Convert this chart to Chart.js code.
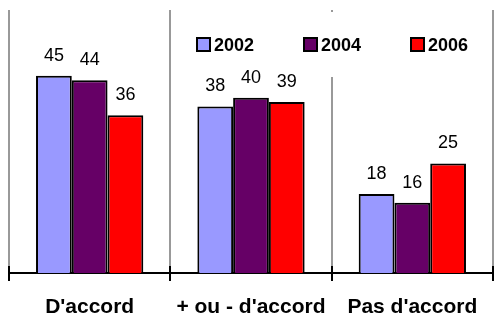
<!DOCTYPE html>
<html lang="fr">
  <head>
    <meta charset="UTF-8" />
    <title>Chart</title>
    <style>
      body { margin: 0; background: #fff; }
    </style>
  </head>
  <body>
    <canvas id="myChart" width="494" height="315"></canvas>

    <script src="https://cdn.jsdelivr.net/npm/chart.js"></script>
    <script>
      const categories = ["D'accord", "+ ou - d'accord", "Pas d'accord"];
      const years = ["2002", "2004", "2006"];
      const values2002 = [45, 38, 18];
      const values2004 = [44, 40, 16];
      const values2006 = [36, 39, 25];
      const colors = ["#9999FF", "#660066", "#FF0000"];

      const fontFamily = "'Liberation Sans', Arial, sans-serif";

      // legend sits over the top of the plot, value labels above bars
      const overlay = {
        id: "overlay",
        afterDatasetsDraw(chart) {
          const ctx = chart.ctx;
          const area = chart.chartArea;
          ctx.save();

          ctx.fillStyle = "#fff";
          ctx.fillRect(area.left + 172, area.top + 2, 306, 65);

          // tick marks poke a little above the axis too
          const n = chart.data.labels.length;
          ctx.strokeStyle = "#000";
          ctx.lineWidth = 2;
          for (let i = 0; i <= n; i++) {
            const x = Math.round(area.left + (i * area.width) / n);
            ctx.beginPath();
            ctx.moveTo(x, area.bottom - 7);
            ctx.lineTo(x, area.bottom);
            ctx.stroke();
          }

          ctx.font = "bold 18px " + fontFamily;
          ctx.textBaseline = "alphabetic";
          ctx.textAlign = "left";
          chart.data.datasets.forEach(function (ds, i) {
            const x = area.left + 188 + i * 107;
            const y = area.top + 28;
            ctx.fillStyle = ds.backgroundColor;
            ctx.fillRect(x, y, 13, 13);
            ctx.strokeStyle = "#000";
            ctx.lineWidth = 2;
            ctx.strokeRect(x, y, 13, 13);
            ctx.fillStyle = "#000";
            ctx.fillText(ds.label, x + 17, y + 13);
          });

          ctx.font = "18px " + fontFamily;
          ctx.textAlign = "center";
          chart.data.datasets.forEach(function (ds, i) {
            const meta = chart.getDatasetMeta(i);
            meta.data.forEach(function (bar, j) {
              ctx.fillText(ds.data[j], bar.x, bar.y - 15);
            });
          });
          ctx.restore();
        },
      };

      const ctx = document.getElementById("myChart");

      const myChart = new Chart(ctx, {
        type: "bar",
        data: {
          labels: categories,
          datasets: [
            { label: years[0], data: values2002, backgroundColor: colors[0] },
            { label: years[1], data: values2004, backgroundColor: colors[1] },
            { label: years[2], data: values2006, backgroundColor: colors[2] },
          ],
        },
        options: {
          responsive: false,
          animation: false,
          layout: { padding: { left: 9, top: 10, right: 1, bottom: 0 } },
          datasets: {
            bar: {
              borderColor: "#000",
              borderWidth: 2,
              categoryPercentage: 0.665,
              barPercentage: 1,
            },
          },
          plugins: {
            legend: { display: false },
            tooltip: { enabled: false },
          },
          scales: {
            x: {
              afterFit(scale) {
                scale.height = 42;
              },
              grid: {
                offset: true,
                color: "#999",
                lineWidth: 2,
                tickColor: "#000",
                tickLength: 8,
              },
              border: { color: "#000", width: 2 },
              ticks: {
                color: "#000",
                padding: 14,
                font: { family: fontFamily, size: 21, weight: "bold" },
              },
            },
            y: {
              display: false,
              min: 0,
              max: 60,
            },
          },
        },
        plugins: [overlay],
      });
    </script>
  </body>
</html>
